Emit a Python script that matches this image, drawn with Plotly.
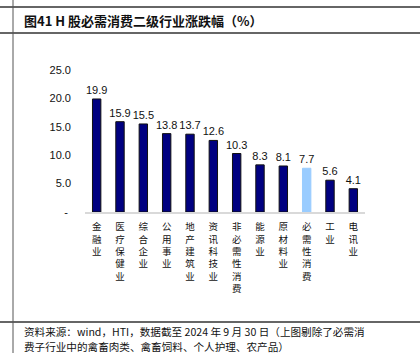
import plotly.graph_objects as go

categories = ["金融业", "医疗保健业", "综合企业", "公用事业", "地产建筑业", "资讯科技业",
              "非必需性消费", "能源业", "原材料业", "必需性消费", "工业", "电讯业"]
values = [19.9, 15.9, 15.5, 13.8, 13.7, 12.6, 10.3, 8.3, 8.1, 7.7, 5.6, 4.1]
highlight = "必需性消费"
y_ticks = [0, 5, 10, 15, 20, 25]
y_ticktext = ["- ", "5.0", "10.0", "15.0", "20.0", "25.0"]
title_text = "图41 H 股必需消费二级行业涨跌幅（%）"
source_lines = ["资料来源：wind，HTI，数据截至 2024 年 9 月 30 日（上图剔除了必需消",
                "费子行业中的禽畜肉类、禽畜饲料、个人护理、农产品）"]

W, H = 420, 353
ML, MR, MT, MB = 85, 55, 70, 141
PW, PH = W - ML - MR, H - MT - MB

def xp(px):
    return (px - ML) / PW

def yp(py):
    return (H - MB - py) / PH

colors = ["#99CCFF" if c == highlight else "#000080" for c in categories]
line_colors = ["#99CCFF" if c == highlight else "#111111" for c in categories]
ticktext = ["<br>".join(list(c)) for c in categories]

fig = go.Figure(go.Bar(
    x=categories, y=values,
    marker=dict(color=colors, line=dict(color=line_colors, width=1)),
    width=0.36,
    text=[f"{v:.1f}" for v in values],
    textposition="outside",
    constraintext="none",
    textfont=dict(family="Liberation Sans, Arial", size=11, color="#111111"),
    cliponaxis=False,
))

fig.update_layout(
    width=W, height=H,
    margin=dict(l=ML, r=MR, t=MT, b=MB, pad=0),
    paper_bgcolor="white", plot_bgcolor="white",
    showlegend=False,
    xaxis=dict(
        tickmode="array", tickvals=categories, ticktext=ticktext,
        tickangle=0, showgrid=False, showline=True, linecolor="#D9D9D9", linewidth=1.5,
        ticks="", tickfont=dict(family="Noto Sans CJK SC", size=9.5, color="#111111"),
        ticklabelstandoff=5,
    ),
    yaxis=dict(
        range=[0, 25], tickmode="array", tickvals=y_ticks, ticktext=y_ticktext,
        showgrid=False, zeroline=False, showline=False, ticks="",
        tickfont=dict(family="Liberation Sans, Arial", size=11, color="#111111"),
        ticklabelstandoff=13,
    ),
    bargap=0.6,
)

frame = dict(color="#333333", width=1.5)
shapes = [
    dict(type="line", xref="paper", yref="paper", x0=xp(0), x1=xp(W), y0=yp(7), y1=yp(7), line=frame),
    dict(type="line", xref="paper", yref="paper", x0=xp(0), x1=xp(W), y0=yp(33), y1=yp(33), line=frame),
    dict(type="line", xref="paper", yref="paper", x0=xp(0), x1=xp(W), y0=yp(322), y1=yp(322), line=frame),
    dict(type="line", xref="paper", yref="paper", x0=xp(13), x1=xp(13), y0=yp(0), y1=yp(H), line=dict(color="#555555", width=1)),
]
fig.update_layout(shapes=shapes)

fig.add_annotation(text=f"<b>{title_text}</b>", xref="paper", yref="paper",
                   x=xp(22), y=yp(20), xanchor="left", yanchor="middle", showarrow=False,
                   font=dict(family="Noto Sans CJK SC", size=13, color="#111111"))
for i, line in enumerate(source_lines):
    fig.add_annotation(text=line, xref="paper", yref="paper",
                       x=xp(22), y=yp(331 + 15 * i), xanchor="left", yanchor="middle", showarrow=False,
                       font=dict(family="Noto Sans CJK SC", size=10.6, color="#111111"))

fig.write_html("out.html")
